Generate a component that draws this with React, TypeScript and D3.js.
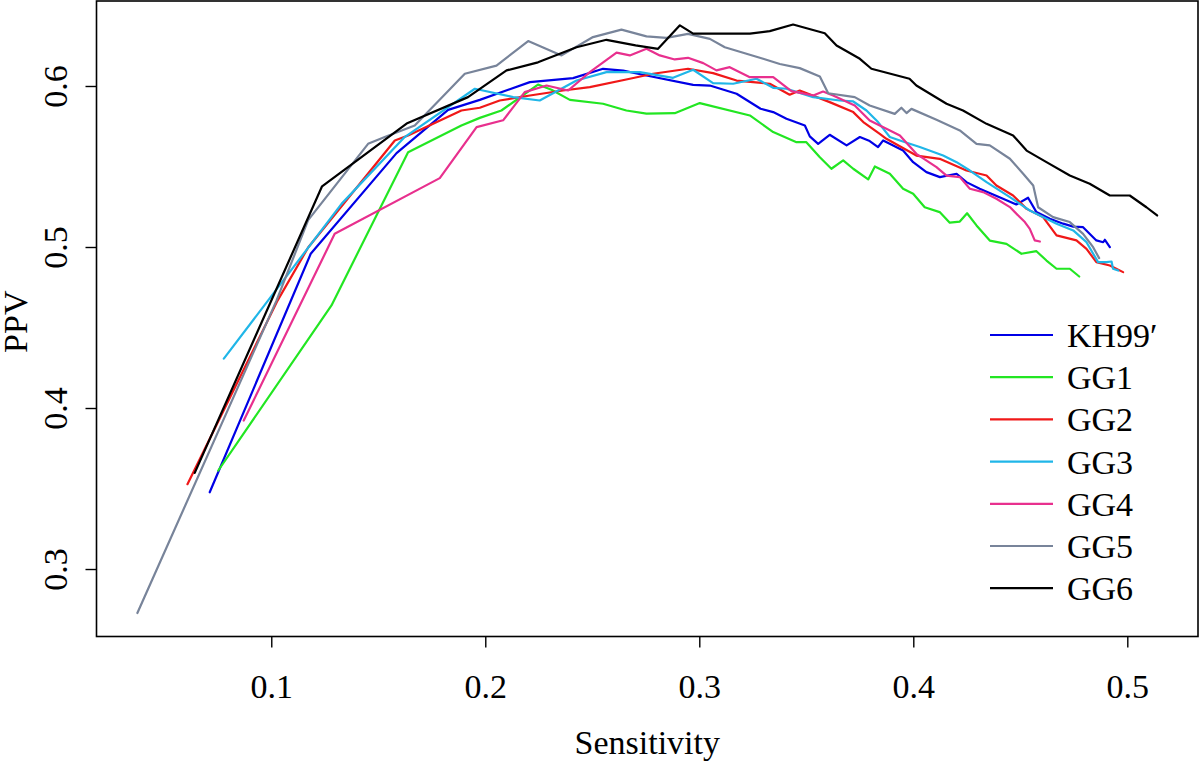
import React from "react";
import * as d3 from "d3";

type P = [number, number];

const xTicks = [0.1, 0.2, 0.3, 0.4, 0.5];
const yTicks = [0.3, 0.4, 0.5, 0.6];

const seriesNames = ["KH99\u2032", "GG1", "GG2", "GG3", "GG4", "GG5", "GG6"];
const seriesColors = ["#0000E6", "#22E622", "#F01818", "#20B6E8", "#E8308E", "#78849A", "#000000"];

const KH99: P[] = [
  [0.071, 0.348], [0.1182, 0.4961], [0.1583, 0.5586], [0.1824, 0.5855], [0.1972, 0.5917],
  [0.2206, 0.6027], [0.2408, 0.6052], [0.2548, 0.611], [0.2642, 0.6099], [0.2751, 0.6068],
  [0.2969, 0.601], [0.3047, 0.6006], [0.3172, 0.5955], [0.3284, 0.5862], [0.3343, 0.5841],
  [0.3405, 0.58], [0.3491, 0.5758], [0.3514, 0.569], [0.3553, 0.5644], [0.3607, 0.57],
  [0.3686, 0.5634], [0.3748, 0.5686], [0.3794, 0.5661], [0.3833, 0.5624], [0.3857, 0.5665],
  [0.395, 0.5602], [0.3997, 0.553], [0.4059, 0.5468], [0.4122, 0.5437], [0.42, 0.5458],
  [0.4246, 0.5406], [0.4308, 0.5365], [0.4417, 0.5303], [0.4479, 0.5267], [0.4534, 0.5309],
  [0.4573, 0.522], [0.4636, 0.5179], [0.4698, 0.5148], [0.4745, 0.513], [0.4791, 0.5126],
  [0.4853, 0.5044], [0.4885, 0.5033], [0.4893, 0.5048], [0.4916, 0.5002],
];

const GG1: P[] = [
  [0.075, 0.3615], [0.1279, 0.464], [0.1637, 0.5592], [0.1886, 0.5758], [0.1972, 0.5805],
  [0.2073, 0.5851], [0.2244, 0.6012], [0.2307, 0.598], [0.2393, 0.5917], [0.2548, 0.5893],
  [0.2657, 0.5851], [0.2751, 0.5831], [0.2883, 0.5834], [0.3, 0.5897], [0.3234, 0.582],
  [0.3343, 0.5717], [0.3452, 0.5654], [0.3498, 0.5654], [0.3561, 0.5561], [0.3615, 0.5489],
  [0.367, 0.5541], [0.3717, 0.5489], [0.3787, 0.5423], [0.3818, 0.5503], [0.3888, 0.5458],
  [0.395, 0.5365], [0.3997, 0.5334], [0.4051, 0.525], [0.4121, 0.522], [0.4168, 0.5154],
  [0.4215, 0.5161], [0.4249, 0.5213], [0.4293, 0.5137], [0.4355, 0.5043], [0.4433, 0.5023],
  [0.4503, 0.4961], [0.4573, 0.4977], [0.462, 0.4919], [0.4667, 0.4868], [0.4729, 0.4868],
  [0.4773, 0.482],
];

const GG2: P[] = [
  [0.0606, 0.353], [0.1027, 0.467], [0.117, 0.5], [0.1575, 0.5665], [0.1637, 0.5696],
  [0.1886, 0.5851], [0.1972, 0.5868], [0.2065, 0.5913], [0.2206, 0.5944], [0.2361, 0.5975],
  [0.2486, 0.5996], [0.2673, 0.6048], [0.2782, 0.6079], [0.2945, 0.611], [0.3062, 0.6083],
  [0.3172, 0.6037], [0.3327, 0.6017], [0.342, 0.5949], [0.3467, 0.5975], [0.3607, 0.5903],
  [0.3717, 0.5841], [0.3764, 0.5779], [0.3841, 0.5706], [0.3872, 0.5675], [0.4012, 0.5571],
  [0.4121, 0.5551], [0.4246, 0.5478], [0.434, 0.5447], [0.4386, 0.5385], [0.4464, 0.5323],
  [0.4527, 0.524], [0.4604, 0.5189], [0.4667, 0.5075], [0.476, 0.5044], [0.4807, 0.4992],
  [0.4853, 0.4909], [0.4916, 0.4888], [0.4978, 0.4847],
];

const GG3: P[] = [
  [0.0776, 0.431], [0.1326, 0.5271], [0.1621, 0.5686], [0.1949, 0.5986], [0.2128, 0.5934],
  [0.2252, 0.5913], [0.2424, 0.6037], [0.2564, 0.6089], [0.272, 0.6089], [0.2875, 0.6054],
  [0.2969, 0.6104], [0.3062, 0.6021], [0.3156, 0.6017], [0.3265, 0.6048], [0.3343, 0.5992],
  [0.3405, 0.5986], [0.353, 0.5934], [0.3654, 0.5913], [0.3717, 0.5907], [0.3779, 0.5851],
  [0.3833, 0.5779], [0.3888, 0.5686], [0.3935, 0.5665], [0.4028, 0.5624], [0.4137, 0.5571],
  [0.42, 0.553], [0.4262, 0.5478], [0.434, 0.5406], [0.4449, 0.5313], [0.4542, 0.523],
  [0.4667, 0.5148], [0.4745, 0.5106], [0.4807, 0.5033], [0.4861, 0.4909], [0.49, 0.4909],
  [0.4924, 0.4913], [0.4931, 0.4868], [0.4955, 0.4857],
];

const GG4: P[] = [
  [0.0869, 0.3925], [0.1294, 0.5085], [0.1785, 0.5431], [0.1957, 0.5748], [0.2081, 0.579],
  [0.2182, 0.5965], [0.2284, 0.6006], [0.2385, 0.5975], [0.2486, 0.6089], [0.2611, 0.621],
  [0.2673, 0.6193], [0.2751, 0.6234], [0.2813, 0.6193], [0.2883, 0.6168], [0.2945, 0.6178],
  [0.3016, 0.6145], [0.3078, 0.61], [0.314, 0.612], [0.3234, 0.6058], [0.3343, 0.6058],
  [0.3428, 0.5971], [0.353, 0.5944], [0.3576, 0.5969], [0.3623, 0.5944], [0.3724, 0.5882],
  [0.3794, 0.5789], [0.3841, 0.5758], [0.3872, 0.5738], [0.3935, 0.5696], [0.4012, 0.5582],
  [0.4106, 0.5499], [0.4153, 0.5447], [0.4215, 0.5437], [0.4262, 0.5365], [0.4324, 0.5344],
  [0.4386, 0.5303], [0.4449, 0.5251], [0.4495, 0.5189], [0.4519, 0.5158], [0.4542, 0.5116],
  [0.4565, 0.5044], [0.4589, 0.5037],
];

const GG5: P[] = [
  [0.0372, 0.273], [0.1022, 0.467], [0.117, 0.517], [0.145, 0.5644], [0.1528, 0.5686],
  [0.1668, 0.5758], [0.1902, 0.6079], [0.205, 0.613], [0.2198, 0.6282], [0.2354, 0.6193],
  [0.2501, 0.6307], [0.2634, 0.6353], [0.2751, 0.6311], [0.2844, 0.6302], [0.2945, 0.6327],
  [0.3047, 0.6296], [0.3117, 0.6244], [0.3296, 0.6172], [0.3374, 0.614], [0.3467, 0.6114],
  [0.3561, 0.6062], [0.36, 0.5958], [0.3724, 0.5934], [0.3794, 0.5882], [0.3911, 0.583],
  [0.3942, 0.5868], [0.3966, 0.5835], [0.3989, 0.5861], [0.4106, 0.5793], [0.4215, 0.5727],
  [0.4293, 0.5644], [0.4355, 0.5634], [0.4449, 0.5551], [0.4511, 0.5458], [0.4558, 0.5385],
  [0.4581, 0.525], [0.4651, 0.5189], [0.4729, 0.5158], [0.4791, 0.5085], [0.4838, 0.5002],
  [0.4866, 0.4934],
];

const GG6: P[] = [
  [0.064, 0.36], [0.1235, 0.538], [0.163, 0.577], [0.1917, 0.5934], [0.2097, 0.61],
  [0.2244, 0.615], [0.2424, 0.6244], [0.2564, 0.629], [0.27, 0.6255], [0.2805, 0.6234],
  [0.2907, 0.638], [0.2969, 0.6328], [0.3234, 0.6328], [0.3327, 0.6344], [0.3436, 0.6385],
  [0.3584, 0.6331], [0.3639, 0.6255], [0.3748, 0.6172], [0.3802, 0.611], [0.398, 0.6048],
  [0.4012, 0.6006], [0.4153, 0.5893], [0.423, 0.5851], [0.434, 0.5768], [0.4464, 0.5696],
  [0.4527, 0.5602], [0.462, 0.553], [0.4729, 0.5447], [0.4822, 0.5396], [0.4916, 0.5323],
  [0.5009, 0.5323], [0.5087, 0.525], [0.5137, 0.5199],
];

const allSeries: P[][] = [KH99, GG1, GG2, GG3, GG4, GG5, GG6];

const W = 1200;
const H = 765;
const L = 96.5;
const R = 1198;
const T = 1;
const B = 636.5;
const FONT = "'Liberation Serif', 'Times New Roman', serif";
const FS = 34;

export default function App() {
  const x = d3.scaleLinear().domain([0.0181, 0.5328]).range([L, R]);
  const y = d3.scaleLinear().domain([0.2584, 0.6531]).range([B, T]);
  const line = d3
    .line<P>()
    .x((d) => x(d[0]))
    .y((d) => y(d[1]));

  const legX1 = 990;
  const legX2 = 1053;
  const legTextX = 1067;
  const legY0 = 335;
  const legDy = 42.2;

  return (
    <svg
      width={W}
      height={H}
      style={{ position: "absolute", left: 0, top: 0, background: "#fff" }}
      fontFamily={FONT}
    >
      <defs>
        <clipPath id="plotclip">
          <rect x={L} y={T} width={R - L} height={B - T} />
        </clipPath>
      </defs>
      <rect x={0} y={0} width={W} height={H} fill="#fff" />
      <g clipPath="url(#plotclip)">
        {allSeries.map((s, i) => (
          <path
            key={i}
            d={line(s) || ""}
            fill="none"
            stroke={seriesColors[i]}
            strokeWidth={2.2}
            strokeLinejoin="round"
            strokeLinecap="round"
          />
        ))}
      </g>
      <rect x={L} y={T} width={R - L} height={B - T} fill="none" stroke="#000" strokeWidth={1.6} />
      {xTicks.map((t) => (
        <g key={"x" + t}>
          <line x1={x(t)} x2={x(t)} y1={B} y2={B + 11} stroke="#000" strokeWidth={1.4} />
          <text x={x(t)} y={698} textAnchor="middle" fontSize={FS}>
            {t.toFixed(1)}
          </text>
        </g>
      ))}
      {yTicks.map((t) => (
        <g key={"y" + t}>
          <line x1={L - 11} x2={L} y1={y(t)} y2={y(t)} stroke="#000" strokeWidth={1.4} />
          <text
            transform={`translate(67,${y(t)}) rotate(-90)`}
            textAnchor="middle"
            fontSize={FS}
          >
            {t.toFixed(1)}
          </text>
        </g>
      ))}
      <text x={(L + R) / 2} y={754} textAnchor="middle" fontSize={FS}>
        Sensitivity
      </text>
      <text transform={`translate(27,${(T + B) / 2 + 3}) rotate(-90)`} textAnchor="middle" fontSize={FS}>
        PPV
      </text>
      {seriesNames.map((n, i) => (
        <g key={n}>
          <line
            x1={legX1}
            x2={legX2}
            y1={legY0 + i * legDy}
            y2={legY0 + i * legDy}
            stroke={seriesColors[i]}
            strokeWidth={2.2}
          />
          <text x={legTextX} y={legY0 + i * legDy + 12} fontSize={FS}>
            {n}
          </text>
        </g>
      ))}
    </svg>
  );
}
